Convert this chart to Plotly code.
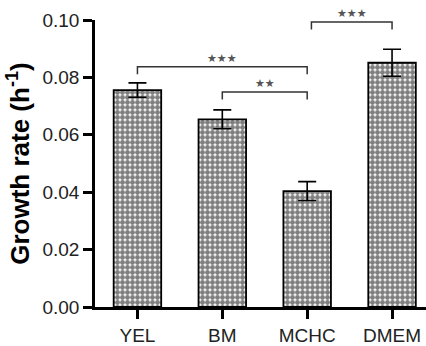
import plotly.graph_objects as go

categories = ["YEL", "BM", "MCHC", "DMEM"]
growth_rate = [0.0756, 0.0654, 0.0404, 0.0851]
growth_err = [0.0025, 0.0033, 0.0033, 0.0047]

# significance comparisons: (left category, right category, bracket level, label)
comp_left = ["YEL", "BM", "MCHC"]
comp_right = ["MCHC", "MCHC", "DMEM"]
comp_level = [0.0837, 0.0749, 0.0993]
comp_label = ["★★★", "★★", "★★★"]
leg_drop = 0.0026

y_ticks = [0.00, 0.02, 0.04, 0.06, 0.08, 0.10]

idx = {c: i for i, c in enumerate(categories)}
x_pos = [idx[c] for c in categories]

fig = go.Figure()
fig.add_trace(go.Bar(
    x=x_pos, y=growth_rate,
    width=0.56,
    marker=dict(
        color="white",
        line=dict(color="black", width=1.8),
        pattern=dict(shape=".", size=5, solidity=0.75,
                     fgcolor="black", bgcolor="white", fillmode="overlay"),
    ),
    error_y=dict(type="data", array=growth_err, visible=True,
                 color="black", thickness=1.6, width=9),
))

for l, r, lev, lab in zip(comp_left, comp_right, comp_level, comp_label):
    x0, x1 = idx[l], idx[r]
    xs0 = x0 + (0.05 if (l == "MCHC" and r == "DMEM") else 0.0)
    xs1 = x1
    fig.add_trace(go.Scatter(
        x=[xs0, xs0, xs1, xs1],
        y=[lev - leg_drop, lev, lev, lev - leg_drop],
        mode="lines", line=dict(color="#333333", width=1.5),
        hoverinfo="skip", cliponaxis=False,
    ))
    fig.add_annotation(x=(xs0 + xs1) / 2, y=lev, text=lab, showarrow=False,
                       xref="x", yref="y", yanchor="bottom", yshift=0,
                       font=dict(family="DejaVu Sans", size=11, color="#555555"))

fig.update_layout(
    width=426, height=346,
    margin=dict(l=95, r=0, t=20, b=31),
    paper_bgcolor="white", plot_bgcolor="white",
    showlegend=False,
    font=dict(family="Liberation Sans", color="black"),
)
fig.update_xaxes(
    type="linear",
    tickvals=x_pos, ticktext=categories,
    range=[-0.5, 3.4],
    showline=True, linecolor="black", linewidth=2.5,
    ticks="outside", ticklen=9, tickwidth=2.5, tickcolor="black",
    tickfont=dict(size=19, color="#222222", family="Liberation Sans"),
    showgrid=False, zeroline=False,
)
fig.update_yaxes(
    range=[0, 0.1], tickvals=y_ticks, ticktext=[f"{v:.2f}" for v in y_ticks],
    showline=True, linecolor="black", linewidth=2.5,
    ticks="outside", ticklen=9, tickwidth=2.5, tickcolor="black",
    tickfont=dict(size=19, color="#222222", family="Liberation Sans"),
    showgrid=False, zeroline=False,
    title=dict(text="<b>Growth rate (h<sup>-1</sup>)</b>", standoff=6,
               font=dict(size=26, family="Liberation Sans Narrow, Liberation Sans", color="black")),
)

fig.write_html("out.html")
